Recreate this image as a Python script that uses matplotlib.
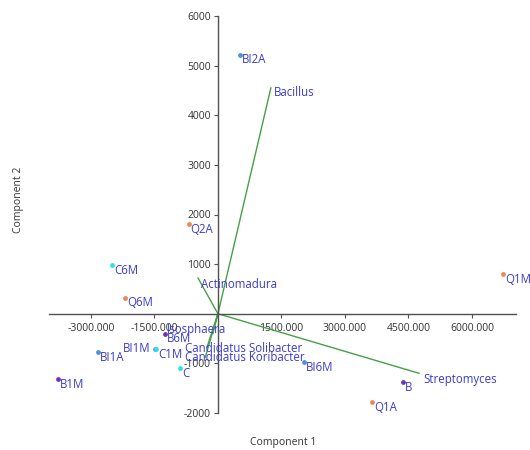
import matplotlib
matplotlib.use("Agg")
import matplotlib.pyplot as plt
from matplotlib.ticker import FixedLocator, FuncFormatter

plt.rcParams['font.family'] = ['Open Sans', 'DejaVu Sans']

# --- data ---
samples = ["BI2A", "Q2A", "C6M", "Q6M", "Q1M", "B6M", "BI1M", "C1M",
           "BI1A", "B1M", "C", "BI6M", "B", "Q1A"]
comp1 = [520, -690, -2500, -2200, 6730, -1250, -1480, -1460,
         -2830, -3780, -900, 2030, 4370, 3640]
comp2 = [5220, 1800, 980, 320, 800, -400, -710, -720,
         -780, -1320, -1100, -980, -1380, -1780]
groups = ["BI", "Q", "C", "Q", "Q", "B", "BI", "C",
          "BI", "B", "C", "BI", "B", "Q"]

taxa = ["Bacillus", "Actinomadura", "Streptomyces", "Isosphaera",
        "Candidatus Solibacter", "Candidatus Koribacter"]
load1 = [1250, -470, 4750, -120, -260, -300]
load2 = [4550, 720, -1200, -400, -680, -880]

xticks = [-3000, -1500, 1500, 3000, 4500, 6000]
yticks = [-2000, -1000, 1000, 2000, 3000, 4000, 5000, 6000]

# --- style ---
group_colors = {"BI": "#4f8fe0", "Q": "#f08454", "C": "#2ee0e8", "B": "#7232b8"}
label_color = "#3b3bd0"
line_color = "#46a046"
# label offsets in pixels (dx, dy; dy positive = down)
point_offsets = {"BI1M": (-5, 0, "right")}
taxa_offsets = {"Bacillus": (3, 5), "Actinomadura": (3, 6), "Streptomyces": (4, 6),
                "Isosphaera": (-46, -4), "Candidatus Solibacter": (-22, 1),
                "Candidatus Koribacter": (-20, 0)}

W, H = 530, 450
fig = plt.figure(figsize=(W / 100, H / 100), dpi=100)
L, R, T, B = 49, 516, 16, 413
ax = fig.add_axes([L / W, (H - B) / H, (R - L) / W, (B - T) / H])
ax.set_xlim(-3990, 7040)
ax.set_ylim(-2000, 6000)

px = 0.72  # points per pixel

for name, x, y in zip(taxa, load1, load2):
    ax.plot([0, x], [0, y], color=line_color, lw=1.0, zorder=2)
    dx, dy = taxa_offsets[name]
    ax.annotate(name, (x, y), xytext=(dx * px, -dy * px), textcoords="offset points",
                ha="left", va="center", color=label_color, fontsize=8.3,
                annotation_clip=False, zorder=4)

for name, x, y, g in zip(samples, comp1, comp2, groups):
    ax.scatter([x], [y], s=12, color=group_colors[g], zorder=3, linewidths=0,
               clip_on=False)
    dx, dy, ha = point_offsets.get(name, (2, 5, "left"))
    ax.annotate(name, (x, y), xytext=(dx * px, -dy * px), textcoords="offset points",
                ha=ha, va="center", color=label_color, fontsize=8.3,
                annotation_clip=False, zorder=4)

for s in ["top", "right"]:
    ax.spines[s].set_visible(False)
ax.spines["left"].set_position(("data", 0))
ax.spines["bottom"].set_position(("data", 0))
for s in ["left", "bottom"]:
    ax.spines[s].set_color("#505050")
    ax.spines[s].set_linewidth(1.0)

ax.xaxis.set_major_locator(FixedLocator(xticks))
ax.yaxis.set_major_locator(FixedLocator(yticks))
ax.xaxis.set_major_formatter(FuncFormatter(lambda v, p: f"{v:.3f}"))
ax.yaxis.set_major_formatter(FuncFormatter(lambda v, p: f"{int(v)}"))
ax.tick_params(axis="both", direction="out", length=3, width=0.8, color="#505050",
               labelsize=7.5, labelcolor="#333333", pad=2)
ax.tick_params(axis="x", pad=4)
ax.patch.set_alpha(0)

fig.text(283 / W, 1 - 443 / H, "Component 1", ha="center", va="center",
         fontsize=7.5, color="#333333")
fig.text(18 / W, 1 - 200 / H, "Component 2", ha="center", va="center",
         fontsize=7.5, color="#333333", rotation=90)

fig.savefig("out.png", dpi=100)
